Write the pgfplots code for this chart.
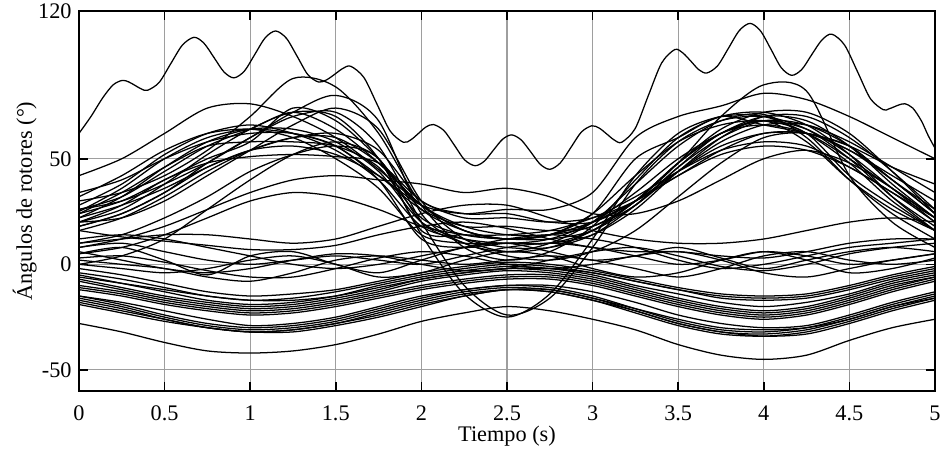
\documentclass[border=0pt]{standalone}
\usepackage{fontspec}
\setmainfont{Liberation Serif}
\usepackage{pgfplots}
\usepackage{pgfplotstable}
\pgfplotsset{compat=1.18}

\pgfplotstableread{
name 0 0.25 0.5 0.75 1 1.25 1.5 1.75 2 2.25 2.5 2.75 3 3.25 3.5 3.75 4 4.25 4.5 4.75 5
A1  42 50 62 74 76 70 60 45 28 16 12 14 24 42 58 66 68 62 42 28 16
A2  30 34 42 54 70 88 84 62 28 8 2 6 18 40 60 70 72 66 52 32 16
A3  26 30 38 48 60 72 80 68 24 10 6 10 20 38 56 68 71 60 40 24 12
A4  20 26 38 52 64 72 70 50 14 -14 -25 -14 12 42 62 70 70 62 48 30 16
A5  18 24 34 48 60 70 72 56 20 -10 -24 -16 8 38 58 68 70 64 50 32 18
A6  28 38 52 62 66 62 54 40 18 12 10 12 20 34 50 62 68 64 52 36 20
A7  25 36 50 60 64 62 56 42 26 18 18 16 18 30 48 62 70 68 56 38 22
A8  22 32 46 58 64 64 58 44 20 12 8 8 14 28 46 60 68 66 56 40 24
A9  32 42 54 62 64 60 50 36 14 10 10 10 16 30 48 62 68 58 40 26 16
A10 20 28 40 48 51 52 51 48 30 22 22 20 22 30 42 52 56 54 46 34 22
A11 16 22 32 44 54 60 60 48 28 16 12 14 20 30 42 54 62 62 54 42 30
A12 24 34 46 56 58 58 56 46 22 14 12 12 16 28 44 58 66 66 58 46 34
A13 34 40 50 58 62 62 56 40 12 8 10 10 14 26 44 60 70 70 60 44 26
A14 26 32 44 56 64 72 64 48 28 18 14 14 18 28 46 62 66 62 50 36 22
A15 18 24 34 46 54 60 62 54 30 24 24 20 20 30 44 56 62 62 56 46 38
A16 20 22 30 42 54 66 74 64 30 12 6 8 16 30 48 64 72 72 62 44 24
A17 8 12 18 26 34 40 42 40 38 34 36 32 24 24 30 40 50 54 48 36 22
A18 10 14 22 32 44 52 56 50 16 14 14 16 22 32 44 54 58 56 46 34 20
A19 22 28 36 46 54 56 52 42 28 24 26 26 34 60 70 75 81 78 70 60 50
A20 5 8 14 22 30 34 32 26 18 14 12 14 20 30 48 70 85 82 42 20 8
A21 0 4 12 26 40 52 58 50 20 10 4 2 6 16 32 48 60 62 54 40 24
A22 24 30 40 50 58 74 68 50 26 16 12 14 24 50 60 70 66 62 56 40 26
B1  16 13 11 9 7 7 9 14 18 20 17 12 8 6 6 4 3 6 10 12 12
B2  5 8 2 -5 4 6 0 -4 2 8 10 6 2 4 8 3 -2 2 6 8 6
B3  8 10 6 2 0 2 4 2 0 4 8 10 8 4 0 2 6 4 0 2 5
B4  2 0 -2 -6 -8 -4 2 4 2 0 2 4 2 -2 -6 -2 4 6 2 0 2
B5  0 -2 -4 -2 2 4 0 -6 -4 2 6 4 -2 -6 -4 2 6 2 -4 -2 3
B6  12 14 12 8 4 0 -2 0 4 8 12 14 12 8 2 -2 0 4 8 10 12
B7  3 4 1 -3 -6 -6 -2 3 6 4 0 -2 0 4 6 2 -4 -6 -2 2 5
B8  6 2 -2 -4 -2 2 5 4 0 -3 -2 2 6 8 4 -1 -3 0 5 8 10
B9  10 12 14 14 12 10 12 18 24 28 28 22 16 12 10 10 12 16 20 22 20
C1  -2 -5 -9 -13 -15 -14 -12 -8 -4 -1 1 0 -3 -7 -11 -14 -15 -14 -10 -5 -1
C2  -4 -7 -11 -15 -17 -16 -13 -9 -5 -2 0 -1 -4 -8 -12 -16 -17 -16 -12 -7 -3
C3  -5 -9 -13 -17 -19 -18 -15 -10 -6 -3 -1 -2 -5 -10 -14 -18 -20 -18 -14 -8 -4
C4  -7 -11 -15 -18 -20 -19 -16 -12 -7 -4 -2 -3 -6 -11 -16 -20 -22 -20 -15 -9 -5
C5  -8 -12 -16 -19 -21 -20 -17 -13 -8 -5 -3 -4 -7 -12 -17 -21 -23 -21 -16 -10 -6
C6  -10 -13 -17 -20 -22 -21 -18 -14 -10 -7 -5 -5 -8 -13 -18 -22 -24 -22 -17 -11 -6
C7  -11 -14 -18 -21 -23 -22 -19 -15 -11 -8 -6 -6 -9 -14 -19 -23 -25 -23 -18 -12 -7
C8  -6 -9 -12 -15 -17 -17 -15 -11 -7 -4 -2 -2 -4 -8 -12 -15 -16 -15 -11 -6 -2
C9  -12 -15 -19 -22 -24 -23 -20 -16 -12 -9 -7 -7 -10 -15 -20 -24 -26 -24 -19 -13 -8
C10 -15 -19 -24 -28 -30 -29 -26 -21 -16 -12 -10 -11 -15 -21 -27 -31 -32 -30 -25 -19 -14
C11 -16 -20 -25 -29 -31 -30 -27 -22 -17 -13 -11 -12 -16 -22 -28 -32 -33 -31 -26 -20 -15
C12 -17 -21 -26 -30 -32 -31 -28 -23 -18 -14 -12 -13 -17 -23 -29 -33 -34 -32 -27 -21 -16
C13 -18 -22 -26 -30 -32 -31 -28 -24 -19 -15 -12 -13 -17 -22 -28 -32 -34 -33 -28 -22 -17
C14 -15 -18 -22 -26 -29 -28 -25 -20 -15 -12 -10 -10 -13 -18 -24 -28 -30 -29 -24 -18 -13
C15 -19 -23 -27 -30 -32 -32 -29 -25 -20 -15 -12 -12 -16 -21 -26 -30 -31 -30 -26 -20 -16
C16 -28 -32 -37 -41 -42 -41 -38 -33 -27 -23 -20 -22 -26 -31 -38 -43 -45 -43 -36 -30 -26
}\raw
\pgfplotstabletranspose[colnames from=name]\curves{\raw}

\begin{document}
\begin{tikzpicture}
\begin{axis}[
  name=ax,
  scale only axis,
  width=407.6pt, height=181pt,
  xmin=0, xmax=5, ymin=-60, ymax=120,
  xtick={0,0.5,1,1.5,2,2.5,3,3.5,4,4.5,5},
  xticklabels={0,0.5,1,1.5,2,2.5,3,3.5,4,4.5,5},
  ytick={-50,0,50,120},
  yticklabels={-50,0,50,120},
  tick align=inside,
  major tick length=4.5pt,
  every tick/.style={black, line width=0.8pt},
  axis line style={line width=0.9pt},
  grid=major,
  major grid style={black!38, line width=0.5pt},
  tick label style={font=\fontsize{10.6}{12}\selectfont},
  label style={font=\fontsize{10.6}{12}\selectfont},
  xticklabel style={anchor=base, yshift=-13.8pt},
  xlabel={Tiempo (s)},
  ylabel={Ángulos de rotores (°)},
  xlabel style={at={(axis description cs:0.5,0)}, anchor=base, yshift=-23.8pt},
  ylabel style={at={(axis description cs:-0.0549,0.5)}, anchor=base},
  cycle list={{black, solid}},
  every axis plot/.append style={line width=0.6pt, smooth, no markers},
]
\pgfplotsinvokeforeach{A1,A2,A3,A4,A5,A6,A7,A8,A9,A10,A11,A12,A13,A14,A15,A16,A17,A18,A19,A20,A21,A22,B1,B2,B3,B4,B5,B6,B7,B8,B9,C1,C2,C3,C4,C5,C6,C7,C8,C9,C10,C11,C12,C13,C14,C15,C16}{
  \addplot table[x=colnames, y=#1] {\curves};
}
\addplot coordinates {
(0,62) (0.07,70) (0.14,79) (0.2,85) (0.253,87.1)
(0.29,86.4) (0.327,84.75) (0.363,83.1) (0.40,82.4)
(0.468,86.1) (0.536,95) (0.604,103.8) (0.672,107.5)
(0.73,104.7) (0.789,97.9) (0.847,91.1) (0.905,88.3)
(0.966,91.5) (1.027,99.4) (1.088,107.3) (1.149,110.5)
(1.212,107) (1.275,98.4) (1.337,89.8) (1.40,86.3)
(1.447,87.4) (1.494,90) (1.54,92.7) (1.587,93.8)
(1.664,88.5) (1.741,75.8) (1.818,63.1) (1.895,57.8)
(1.939,59) (1.983,62) (2.026,65) (2.07,66.2)
(2.131,63.4) (2.192,56.5) (2.252,49.5) (2.313,46.7)
(2.367,48.8) (2.42,54) (2.474,59.2) (2.527,61.3)
(2.583,58.9) (2.639,53.2) (2.694,47.4) (2.75,45)
(2.811,48) (2.873,55.3) (2.934,62.6) (2.995,65.6)
(3.039,64.5) (3.083,61.7) (3.126,58.9) (3.17,57.8)
(3.248,64.2) (3.325,79.8) (3.403,95.3) (3.48,101.7)
(3.527,100.1) (3.574,96.2) (3.62,92.2) (3.667,90.6)
(3.73,94) (3.794,102.4) (3.857,110.7) (3.92,114.1)
(3.981,110.5) (4.042,101.8) (4.102,93.1) (4.163,89.5)
(4.222,92.3) (4.28,99.3) (4.339,106.2) (4.397,109)
(4.472,103.8) (4.548,91.1) (4.623,78.4) (4.698,73.2)
(4.73,73.6) (4.762,74.6) (4.793,75.6) (4.825,76)
(4.87,74) (4.92,68) (4.96,61) (5,55)
};
\end{axis}
\pgfresetboundingbox
\path ([xshift=-37.6pt,yshift=-30pt]ax.south west) rectangle ([xshift=3.8pt,yshift=5.2pt]ax.north east);
\end{tikzpicture}
\end{document}
